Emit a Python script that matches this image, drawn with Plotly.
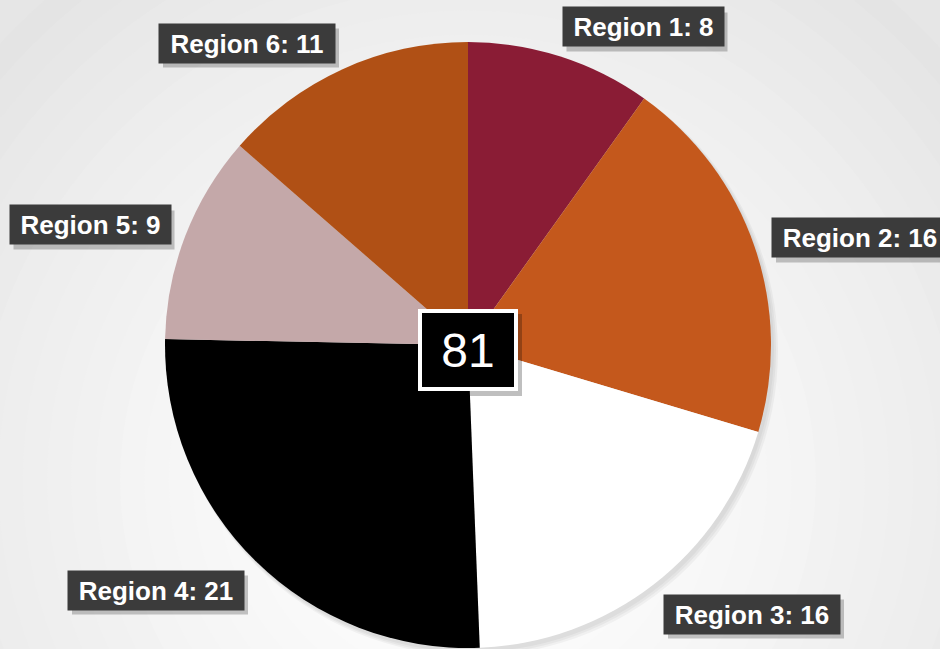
import plotly.graph_objects as go

labels = ["Region 1", "Region 2", "Region 3", "Region 4", "Region 5", "Region 6"]
values = [8, 16, 16, 21, 9, 11]
colors = ["#8a1c35", "#c4581c", "#ffffff", "#000000", "#c4a8a9", "#b05015"]
total_label = "81"

W, H = 940, 649
cx, cy, r = 468, 345, 303

# label box centres in pixels
label_pos = [(643, 27), (860, 238), (752, 614), (156, 590), (90, 225), (247, 43)]

fig = go.Figure()

fig.add_trace(go.Pie(
    labels=labels, values=values, sort=False, direction="clockwise", rotation=0,
    marker=dict(colors=colors, line=dict(width=0)),
    textinfo="none", hoverinfo="label+value", showlegend=False,
    domain=dict(x=[(cx - r) / W, (cx + r) / W], y=[1 - (cy + r) / H, 1 - (cy - r) / H]),
))


def pix_rect(x, y, w, h, color, layer):
    return dict(type="rect", xref="paper", yref="paper", xsizemode="pixel", ysizemode="pixel",
                xanchor=x / W, yanchor=1 - y / H, x0=-w / 2, x1=w / 2, y0=-h / 2, y1=h / 2,
                fillcolor=color, line=dict(width=0), layer=layer)


shapes = []
# radial background gradient
n = 24
for i in range(n):
    t = i / (n - 1)
    rad = 640 * (1 - t) + 80 * t
    g = int(228 + (255 - 228) * t ** 0.8)
    shapes.append(dict(type="circle", xref="paper", yref="paper", xsizemode="pixel", ysizemode="pixel",
                       xanchor=cx / W, yanchor=1 - 480 / H,
                       x0=-rad, x1=rad, y0=-rad, y1=rad,
                       fillcolor=f"rgb({g},{g},{g})", line=dict(width=0), layer="below"))
# soft pie shadow (bottom-right)
for k in range(3):
    rr = r + k
    shapes.append(dict(type="circle", xref="paper", yref="paper", xsizemode="pixel", ysizemode="pixel",
                       xanchor=(cx + 3 + k) / W, yanchor=1 - (cy + 4 + k) / H,
                       x0=-rr, x1=rr, y0=-rr, y1=rr,
                       fillcolor="rgba(0,0,0,0.04)", line=dict(width=0), layer="below"))

FONT = "Liberation Sans, Arial"
annotations = []
for (lab, v), (px, py) in zip(zip(labels, values), label_pos):
    bw = 153 if v < 10 else 168
    shapes.append(pix_rect(px + 4, py + 5, bw + 8, 39, "rgba(0,0,0,0.22)", "above"))
    annotations.append(dict(x=px / W, y=1 - py / H, xref="paper", yref="paper",
                            text=f"<b>{lab}: {v}</b>", showarrow=False, xanchor="center",
                            yanchor="middle", width=bw, height=31, borderpad=4, align="center",
                            font=dict(family=FONT, size=26, color="white"), bgcolor="#3b3b3b"))

shapes.append(pix_rect(cx + 4, cy + 10, 100, 82, "rgba(0,0,0,0.25)", "above"))
annotations.append(dict(x=cx / W, y=1 - (cy + 5) / H, xref="paper", yref="paper",
                        text=total_label, showarrow=False, xanchor="center", yanchor="middle",
                        width=80, height=62, borderpad=6, borderwidth=4,
                        font=dict(family=FONT, size=48, color="white"),
                        bgcolor="black", bordercolor="white"))

fig.update_layout(
    width=W, height=H, margin=dict(l=0, r=0, t=0, b=0),
    paper_bgcolor="#e6e6e6", plot_bgcolor="#e6e6e6",
    shapes=shapes, annotations=annotations,
)

fig.write_html("out.html", config={"displayModeBar": False},
               post_script="document.body.style.margin='0';document.body.style.overflow='hidden';")
